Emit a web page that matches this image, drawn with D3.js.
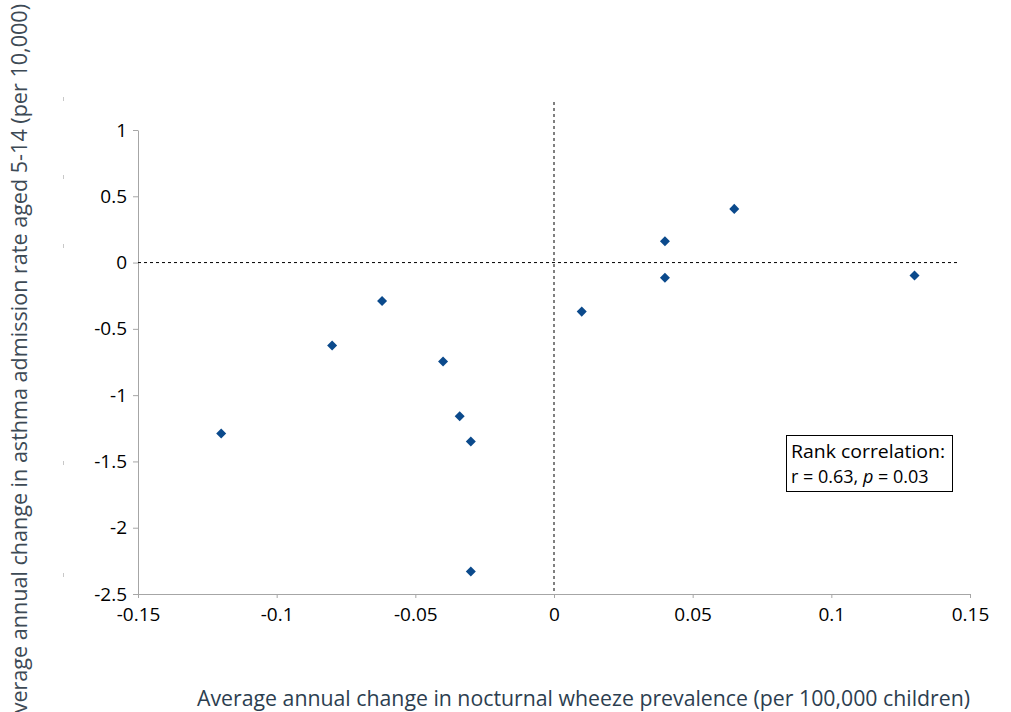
<!DOCTYPE html>
<html>
<head>
<meta charset="utf-8">
<script src="https://cdn.jsdelivr.net/npm/d3@7"></script>
<style>
  body { margin: 0; background: #fff; }
  svg { display: block; }
</style>
</head>
<body>
<script>
// data
const wheezeChange = [-0.120, -0.080, -0.062, -0.040, -0.034, -0.030, -0.030, 0.010, 0.040, 0.040, 0.065, 0.130]
const admissionChange = [-1.29, -0.625, -0.29, -0.746, -1.16, -1.35, -2.33, -0.37, 0.16, -0.115, 0.405, -0.098]
const xTicks = [-0.15, -0.1, -0.05, 0, 0.05, 0.1, 0.15]
const yTicks = [1, 0.5, 0, -0.5, -1, -1.5, -2, -2.5]
const strayMarks = [99, 177, 246, 463, 575]

const width = 1011, height = 712

const svg = d3.select("body").append("svg")
    .attr("width", width)
    .attr("height", height)

const xScale = d3.scaleLinear().domain([-0.15, 0.15]).range([138, 970])
const yScale = d3.scaleLinear().domain([-2.5, 1]).range([594, 130])

const fmt = d => String(d)
const tickFont = "'Open Sans', 'Liberation Sans', sans-serif"

// x axis
const xAxis = svg.append("g")
    .attr("transform", `translate(0,${yScale(-2.5)})`)
    .call(d3.axisBottom(xScale).tickValues(xTicks).tickFormat(fmt).tickSize(4).tickSizeOuter(0))
xAxis.select(".domain").attr("stroke", "#a6a6a6")
xAxis.selectAll(".tick line").attr("stroke", "#a6a6a6")
xAxis.selectAll(".tick text")
    .attr("y", 14)
    .style("font-family", tickFont)
    .style("font-size", "19px")
    .attr("fill", "#000")

// y axis
const yAxis = svg.append("g")
    .attr("transform", `translate(${xScale(-0.15)},0)`)
    .call(d3.axisLeft(yScale).tickValues(yTicks).tickFormat(fmt).tickSize(5).tickSizeOuter(0))
yAxis.select(".domain").attr("stroke", "#a6a6a6")
yAxis.selectAll(".tick line").attr("stroke", "#a6a6a6")
yAxis.selectAll(".tick text")
    .attr("x", -11)
    .style("font-family", tickFont)
    .style("font-size", "19px")
    .attr("fill", "#000")

// dashed zero lines
svg.append("line")
    .attr("x1", xScale(0)).attr("x2", xScale(0))
    .attr("y1", 102).attr("y2", yScale(-2.5))
    .attr("stroke", "#000").attr("stroke-width", 1)
    .attr("stroke-dasharray", "3,3")
svg.append("line")
    .attr("x1", xScale(-0.15)).attr("x2", 960)
    .attr("y1", yScale(0)).attr("y2", yScale(0))
    .attr("stroke", "#000").attr("stroke-width", 1)
    .attr("stroke-dasharray", "3,3")

// stray tick marks left of the axis
svg.selectAll(".stray")
    .data(strayMarks)
    .join("line")
    .attr("x1", 63.5).attr("x2", 63.5)
    .attr("y1", d => d - 2).attr("y2", d => d + 2)
    .attr("stroke", "#c8c8c8")

// points
const points = wheezeChange.map((x, i) => [x, admissionChange[i]])
svg.selectAll(".pt")
    .data(points)
    .join("path")
    .attr("d", d3.symbol(d3.symbolDiamond2, 64))
    .attr("transform", d => `translate(${xScale(d[0])},${yScale(d[1])})`)
    .attr("fill", "#0b4a8c")

// correlation box
const box = svg.append("g")
box.append("rect")
    .attr("x", 786.5).attr("y", 435.5)
    .attr("width", 166).attr("height", 56)
    .attr("fill", "#fff").attr("stroke", "#000")
box.append("text")
    .attr("x", 791).attr("y", 458)
    .attr("textLength", 154)
    .attr("lengthAdjust", "spacingAndGlyphs")
    .style("font-family", tickFont).style("font-size", "18px")
    .text("Rank correlation:")
const t2 = box.append("text")
    .attr("x", 791).attr("y", 483)
    .style("font-family", tickFont).style("font-size", "18px")
t2.append("tspan").text("r = 0.63, ")
t2.append("tspan").style("font-style", "italic").text("p")
t2.append("tspan").text(" = 0.03")

// axis titles
svg.append("text")
    .attr("x", 197).attr("y", 706)
    .attr("textLength", 773)
    .attr("lengthAdjust", "spacingAndGlyphs")
    .style("font-family", "'Open Sans', sans-serif")
    .style("font-size", "21px")
    .attr("fill", "#2c3e50")
    .text("Average annual change in nocturnal wheeze prevalence (per 100,000 children)")

svg.append("text")
    .attr("transform", "translate(27,727) rotate(-90)")
    .attr("textLength", 723)
    .attr("lengthAdjust", "spacingAndGlyphs")
    .style("font-family", "'Open Sans', sans-serif")
    .style("font-size", "21px")
    .attr("fill", "#3d4a55")
    .text("Average annual change in asthma admission rate aged 5-14 (per 10,000)")
</script>
</body>
</html>
